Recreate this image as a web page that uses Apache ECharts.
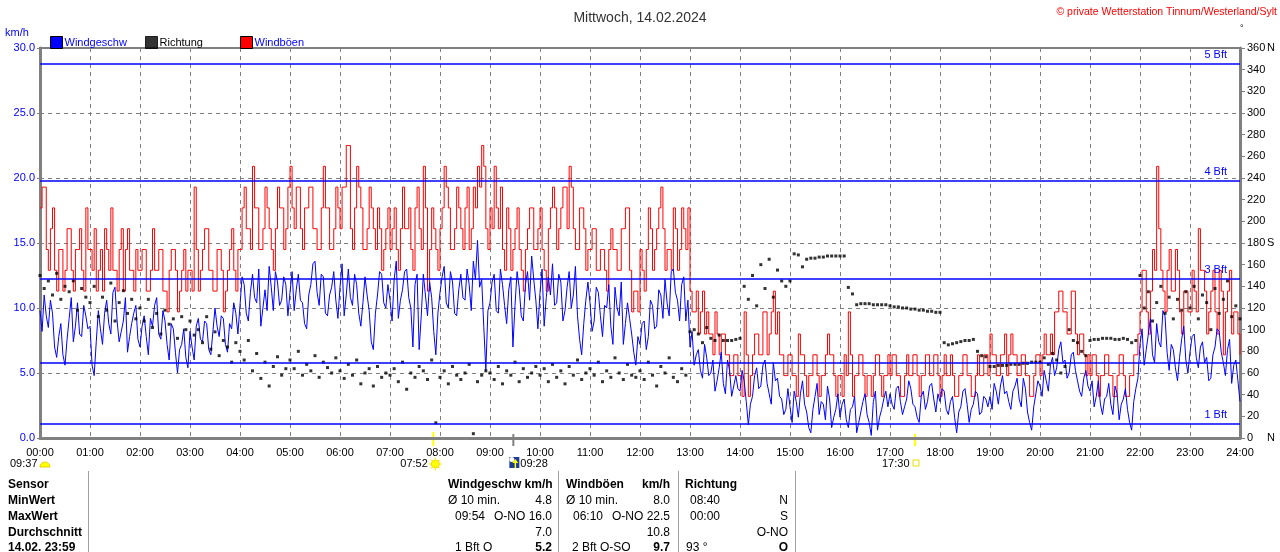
<!DOCTYPE html>
<html><head><meta charset="utf-8">
<script src="https://cdn.jsdelivr.net/npm/echarts@6/dist/echarts.min.js"></script>
<style>html,body{margin:0;padding:0;background:#fff;overflow:hidden}#c{width:1280px;height:552px}</style>
</head><body><div id="c"></div><script>
// ---- data: speed & gusts every 2.5 min, direction every 5 min (00:00 .. 24:00) ----
const speedStepMinutes = 2.5;
const dirStepMinutes = 5;
const windSpeed = [
 9.8,8.2,11.0,9.4,8.5,10.6,9.6,7.0,6.2,7.8,8.8,6.4,5.6,7.6,9.2,10.8,7.4,8.6,10.4,8.0,7.8,10.2,9.4,8.4,
 8.6,5.6,4.8,7.4,9.8,8.4,7.2,9.6,10.6,8.8,8.0,11.2,11.6,9.0,7.4,8.2,9.0,10.8,6.6,7.8,8.8,9.6,10.2,7.6,
 7.0,8.6,9.4,7.8,6.4,9.2,8.6,10.2,10.8,8.0,7.6,9.8,9.0,7.2,6.0,8.8,8.4,6.6,5.0,6.8,7.2,8.4,6.2,5.4,
 8.2,7.0,6.0,8.6,9.2,7.6,7.4,9.0,8.8,6.8,6.4,8.2,10.0,8.6,7.8,9.4,9.2,7.2,6.6,8.8,8.4,10.4,9.6,8.0,
 10.2,12.4,11.8,9.6,9.0,11.2,12.6,10.8,10.4,13.0,8.6,10.0,11.4,9.8,13.2,11.6,9.8,12.8,12.0,10.2,10.6,12.4,11.8,9.4,
 11.2,12.8,9.8,11.4,12.6,10.6,10.4,8.8,8.4,11.0,11.8,13.4,13.6,11.2,10.2,12.6,12.4,9.6,9.4,11.0,11.6,12.8,10.6,9.2,
 11.6,13.4,9.4,11.0,13.0,10.8,10.2,12.6,11.8,9.6,8.6,10.4,12.4,11.0,9.8,7.4,6.8,9.6,11.0,12.8,12.6,10.4,10.0,11.8,
 10.6,9.0,12.2,13.6,9.2,10.6,11.4,12.8,13.0,10.8,10.0,7.0,11.8,12.6,6.8,9.4,12.6,11.0,9.4,12.0,10.8,8.2,6.4,9.6,
 11.2,12.4,13.2,10.4,10.0,12.8,12.0,9.6,9.4,11.4,12.6,10.8,10.6,13.0,11.8,9.8,13.6,12.2,15.2,11.6,12.2,8.6,5.2,9.8,
 10.4,12.0,12.6,9.8,9.6,13.0,11.8,10.2,8.8,11.4,12.4,7.0,10.2,12.8,11.6,9.4,9.0,11.8,12.8,10.6,14.0,12.2,10.6,8.4,
 11.2,13.0,8.6,10.8,12.4,11.0,13.4,10.2,10.4,12.6,12.0,9.0,9.8,11.6,12.8,10.0,11.0,13.2,9.4,7.6,6.4,8.8,10.6,12.0,
 10.4,8.2,9.0,11.6,11.2,9.4,7.8,10.2,10.0,11.8,8.6,7.2,11.6,10.0,9.4,12.0,7.2,8.8,10.4,9.2,8.0,6.6,5.6,7.8,
 7.2,8.8,9.0,6.8,7.8,10.6,10.2,8.4,8.6,11.4,11.0,9.2,12.2,10.4,9.4,12.8,13.0,11.2,10.6,9.0,11.8,12.4,9.0,10.6,
 7.0,8.2,5.6,6.4,6.8,5.2,4.6,7.2,6.2,4.8,5.0,6.0,3.6,4.4,5.4,6.6,4.2,3.4,6.0,5.2,3.2,4.0,4.8,3.8,
 3.6,5.2,4.4,2.8,1.0,2.6,3.2,4.8,5.4,3.8,4.0,5.6,6.0,4.2,3.4,2.6,5.8,4.4,4.6,3.2,3.0,1.8,2.2,3.8,
 2.4,1.2,3.6,2.8,1.6,3.4,4.4,2.6,2.0,0.8,0.4,2.2,3.2,4.2,1.8,2.8,2.6,1.4,4.0,3.0,0.8,1.6,2.2,3.4,
 1.6,2.6,3.0,1.4,0.8,2.2,2.4,3.2,0.4,1.2,2.0,2.8,3.4,1.8,1.2,0.2,2.8,3.6,0.6,1.6,2.2,3.0,3.6,2.4,
 3.4,2.6,2.2,3.8,4.0,2.8,1.8,2.4,3.0,4.4,3.8,2.6,2.4,1.6,1.2,3.2,3.6,2.2,2.8,4.0,4.2,3.0,2.0,3.4,
 2.8,3.8,3.6,2.2,1.8,2.8,3.2,1.6,0.4,2.0,2.4,3.6,3.8,2.6,1.2,2.2,2.6,3.6,3.4,1.8,2.0,3.2,3.0,2.4,
 3.2,2.2,4.2,3.6,2.6,4.0,4.8,3.4,3.6,2.8,2.2,3.6,4.0,4.6,3.0,2.4,4.6,3.8,2.0,1.2,0.6,2.4,3.4,4.4,
 4.0,3.2,5.2,4.4,3.6,5.6,6.2,4.8,5.4,6.8,7.4,5.8,6.0,4.6,5.0,6.4,6.6,5.2,4.4,3.6,3.2,4.6,5.2,4.0,
 3.6,4.4,2.4,3.2,4.4,2.6,1.8,3.0,3.2,4.2,2.6,1.8,4.0,3.4,1.4,2.6,3.0,3.8,2.2,1.2,0.6,2.8,3.8,4.6,
 7.2,8.4,5.6,6.8,8.0,9.2,6.4,5.8,8.8,7.4,7.0,9.8,9.4,6.6,5.2,7.2,6.8,5.4,4.4,6.2,7.6,8.6,6.0,5.0,
 6.6,7.8,8.0,6.2,5.4,7.0,7.4,5.8,6.2,4.4,4.6,6.4,7.0,8.4,8.2,6.6,5.8,4.8,6.8,7.6,4.2,5.6,6.0,4.4,
 2.8];
const gusts = [
 17.7,19.3,19.3,14.5,12.9,16.1,17.7,12.9,11.3,14.5,14.5,11.3,12.9,16.1,16.1,12.9,11.3,14.5,14.5,16.1,12.9,11.3,17.7,14.5,
 14.5,12.9,16.1,11.3,12.9,14.5,11.3,16.1,14.5,12.9,17.7,12.9,12.9,11.3,14.5,16.1,11.3,14.5,16.1,12.9,12.9,11.3,14.5,12.9,
 12.9,14.5,14.5,11.3,11.3,12.9,16.1,12.9,12.9,14.5,14.5,11.3,11.3,9.7,12.9,14.5,14.5,12.9,9.7,11.3,12.9,14.5,11.3,12.9,
 12.9,11.3,19.3,14.5,11.3,12.9,14.5,16.1,16.1,12.9,12.9,11.3,11.3,14.5,14.5,12.9,9.7,11.3,12.9,14.5,16.1,12.9,11.3,14.5,
 14.5,17.7,19.3,16.1,16.1,14.5,20.9,17.7,17.7,14.5,14.5,16.1,19.3,17.7,16.1,14.5,12.9,16.1,19.3,17.7,17.7,14.5,16.1,19.3,
 20.9,17.7,16.1,19.3,19.3,16.1,14.5,17.7,17.7,19.3,19.3,16.1,16.1,14.5,14.5,17.7,20.9,17.7,17.7,14.5,14.5,16.1,19.3,17.7,
 16.1,19.3,19.3,22.5,22.5,16.1,14.5,17.7,20.9,19.3,17.7,14.5,14.5,16.1,19.3,17.7,16.1,14.5,17.7,16.1,12.9,14.5,16.1,17.7,
 14.5,16.1,17.7,14.5,12.9,16.1,19.3,16.1,16.1,17.7,14.5,12.9,17.7,19.3,16.1,14.5,20.9,17.7,11.3,14.5,17.7,16.1,14.5,12.9,
 16.1,17.7,20.9,19.3,17.7,14.5,14.5,16.1,19.3,17.7,16.1,14.5,17.7,19.3,14.5,16.1,19.3,17.7,20.9,19.3,22.5,20.9,16.1,14.5,
 17.7,16.1,20.9,17.7,16.1,19.3,14.5,12.9,17.7,16.1,12.9,14.5,16.1,17.7,14.5,12.9,11.3,14.5,16.1,17.7,17.7,14.5,14.5,16.1,
 17.7,14.5,12.9,11.3,16.1,17.7,19.3,17.7,14.5,16.1,17.7,19.3,19.3,16.1,20.9,19.3,16.1,14.5,14.5,17.7,17.7,16.1,12.9,14.5,
 14.5,16.1,16.1,12.9,12.9,14.5,14.5,12.9,11.3,14.5,16.1,14.5,14.5,12.9,12.9,16.1,16.1,17.7,17.7,12.9,9.7,11.3,11.3,9.7,
 14.5,12.9,11.3,14.5,17.7,16.1,12.9,14.5,16.1,17.7,19.3,16.1,12.9,14.5,14.5,12.9,17.7,16.1,12.9,14.5,17.7,16.1,14.5,17.7,
 11.3,9.7,9.7,11.3,8.0,9.7,11.3,8.0,9.7,8.0,8.0,6.4,9.7,8.0,6.4,8.0,8.0,6.4,6.4,4.8,4.8,6.4,6.4,4.8,
 4.8,3.2,9.7,6.4,3.2,4.8,6.4,8.0,8.0,6.4,6.4,9.7,9.7,6.4,8.0,9.7,11.3,8.0,9.7,6.4,6.4,4.8,4.8,6.4,
 6.4,4.8,4.8,3.2,8.0,6.4,6.4,4.8,3.2,4.8,4.8,6.4,6.4,4.8,3.2,4.8,4.8,6.4,8.0,6.4,6.4,4.8,3.2,4.8,
 4.8,3.2,6.4,4.8,9.7,6.4,3.2,4.8,4.8,6.4,6.4,4.8,3.2,4.8,4.8,3.2,4.8,6.4,6.4,4.8,3.2,4.8,4.8,6.4,
 4.8,6.4,6.4,4.8,4.8,3.2,3.2,4.8,6.4,4.8,4.8,6.4,6.4,4.8,3.2,4.8,4.8,6.4,6.4,4.8,4.8,6.4,6.4,4.8,
 3.2,4.8,6.4,4.8,4.8,6.4,4.8,3.2,3.2,4.8,4.8,6.4,6.4,4.8,4.8,3.2,3.2,4.8,6.4,4.8,4.8,6.4,6.4,4.8,
 8.0,6.4,6.4,4.8,4.8,6.4,6.4,8.0,4.8,6.4,8.0,6.4,6.4,4.8,4.8,6.4,6.4,4.8,4.8,3.2,3.2,4.8,6.4,6.4,
 4.8,6.4,8.0,6.4,6.4,8.0,6.4,9.7,9.7,11.3,11.3,9.7,9.7,8.0,8.0,11.3,11.3,8.0,6.4,8.0,8.0,6.4,4.8,6.4,
 4.8,6.4,6.4,4.8,3.2,4.8,4.8,6.4,6.4,4.8,4.8,3.2,3.2,4.8,6.4,6.4,4.8,3.2,3.2,4.8,4.8,6.4,6.4,8.0,
 9.7,12.9,12.9,9.7,8.0,11.3,14.5,12.9,20.9,16.1,12.9,11.3,9.7,12.9,14.5,11.3,11.3,14.5,12.9,9.7,8.0,11.3,11.3,9.7,
 9.7,12.9,11.3,9.7,16.1,12.9,12.9,11.3,8.0,9.7,11.3,12.9,9.7,8.0,12.9,11.3,6.4,9.7,11.3,12.9,8.0,9.7,9.7,8.0,
 6.4];
const direction = [
 150,138,145,132,152,128,140,135,145,118,138,130,
 125,140,112,130,118,143,108,125,136,115,128,110,
 120,108,128,102,115,96,118,105,110,92,112,100,
 108,95,100,88,112,82,98,76,90,84,70,88,
 80,72,90,62,78,55,70,48,66,75,58,64,
 72,64,80,58,68,62,76,56,70,65,60,74,
 62,55,68,58,72,50,60,64,48,66,56,60,
 58,64,52,70,45,60,56,66,62,54,72,14,
 56,62,50,66,58,54,60,68,4,52,58,62,
 60,54,66,50,62,58,70,52,64,56,60,66,
 58,64,52,68,56,62,50,66,58,72,54,60,
 64,58,70,52,62,56,74,60,54,68,58,56,
 62,54,70,58,48,66,60,74,56,52,64,58,
 98,100,96,88,102,92,90,95,90,90,90,91,
 92,140,128,150,122,160,138,165,130,155,145,140,
 145,170,169,158,165,166,166,167,167,168,168,168,
 168,168,139,133,123,124,124,124,123,123,123,123,
 122,121,121,120,120,119,119,118,118,117,117,116,
 116,88,86,87,88,89,90,90,91,80,76,75,
 66,66,67,67,67,68,68,68,69,69,70,70,
 70,74,68,78,72,60,66,100,90,88,80,76,
 90,91,91,92,92,92,91,91,92,91,88,90,
 150,120,135,108,125,140,115,130,110,128,118,135,
 120,140,110,132,125,100,138,115,128,145,112,122,
 110];
const tickLabels = ['00:00','01:00','02:00','03:00','04:00','05:00','06:00','07:00','08:00','09:00','10:00','11:00','12:00','13:00','14:00','15:00','16:00','17:00','18:00','19:00','20:00','21:00','22:00','23:00','24:00'];
const bftValues = [1.08, 5.76, 12.24, 19.8, 28.8];
const bftLabels = ['1 Bft', '', '3 Bft', '4 Bft', '5 Bft'];
const compassLabels = {0:'N', 180:'S', 360:'N'};
const astroEvents = [ {time:'07:52', kind:'sunrise'}, {time:'09:28', kind:'moonrise'}, {time:'17:30', kind:'sunset'} ];
const moonsetText = '09:37';
const tableHeader = ['Sensor','Windgeschw km/h','Windböen','km/h','Richtung'];
const tableRowNames = ['MinWert','MaxWert','Durchschnitt','14.02. 23:59'];
const tableSpeed = [['Ø 10 min.','4.8'],['09:54','O-NO 16.0'],['','7.0'],['1 Bft O','5.2']];
const tableGust = [['Ø 10 min.','8.0'],['06:10','O-NO 22.5'],['','10.8'],['2 Bft O-SO','9.7']];
const tableDir = [['08:40','N'],['00:00','S'],['','O-NO'],['93 °','O']];

const toPairs = (arr, step) => arr.map((v, i) => [i * step, v]);
const FONT = 'Liberation Sans, Arial, sans-serif';
const FS = 11;
const chart = echarts.init(document.getElementById('c'), null, {renderer:'canvas'});

const legendBase = {orient:'horizontal', top:31, itemWidth:12, itemHeight:12, icon:'rect', selectedMode:false,
  itemGap:0, textStyle:{fontFamily:FONT, fontSize:FS, padding:[0,0,0,-3]}, itemStyle:{borderColor:'#000', borderWidth:1}};

chart.setOption({
  animation:false,
  textStyle:{fontFamily:FONT},
  title:{text:'Mittwoch, 14.02.2024', left:'center', top:6, textStyle:{fontFamily:FONT, fontSize:14, fontWeight:'normal', color:'#333'}},
  legend:[
    Object.assign({}, legendBase, {left:45, data:[{name:'Windgeschw', textStyle:{color:'#0000ff'}}]}),
    Object.assign({}, legendBase, {left:140, data:[{name:'Richtung', textStyle:{color:'#000'}}]}),
    Object.assign({}, legendBase, {left:235, data:[{name:'Windböen', textStyle:{color:'#0000ff'}}]})
  ],
  grid:{left:40, right:40, top:48, bottom:114, show:true, borderColor:'#808080', borderWidth:2, containLabel:false},
  xAxis:{type:'value', min:0, max:1440, interval:60,
    axisLine:{show:true, onZero:false, lineStyle:{color:'#808080', width:3}},
    axisTick:{show:false},
    axisLabel:{color:'#000', fontSize:FS, margin:9, formatter:v => tickLabels[v/60]},
    splitLine:{show:true, lineStyle:{color:'#808080', type:[4,4], width:1}}},
  yAxis:[
    {type:'value', min:0, max:30, interval:5, position:'left',
      axisLine:{show:true, lineStyle:{color:'#808080', width:3}},
      axisTick:{show:true, length:3, lineStyle:{color:'#808080'}},
      axisLabel:{color:'#0000ff', fontSize:FS, margin:5, formatter:v => v.toFixed(1)},
      splitLine:{show:true, lineStyle:{color:'#808080', type:[4,4], width:1}}},
    {type:'value', min:0, max:360, interval:20, position:'right',
      axisLine:{show:true, lineStyle:{color:'#808080', width:3}},
      axisTick:{show:true, length:5, lineStyle:{color:'#808080'}},
      axisLabel:{color:'#000', fontSize:FS, margin:7,
        formatter:v => '{a|' + v + '}' + (compassLabels[v] ? '{b|' + compassLabels[v] + '}' : ''),
        rich:{a:{width:20, fontSize:FS, align:'left'}, b:{fontSize:FS}}},
      splitLine:{show:false}}
  ],
  series:[
    {name:'Windböen', type:'line', yAxisIndex:0, step:'end', symbol:'none', z:2,
      lineStyle:{color:'#ff0000', width:1}, itemStyle:{color:'#ff0000'},
      data:toPairs(gusts, speedStepMinutes),
      markLine:{silent:true, symbol:'none', animation:false,
        lineStyle:{color:'#0000ff', type:'solid', width:1.5},
        data:bftValues.map((v, i) => ({yAxis:v,
          label:{show:!!bftLabels[i], formatter:bftLabels[i], position:'insideEndTop', color:'#0000ff',
            fontSize:FS, fontFamily:FONT, distance:[13,3]}}))}},
    {name:'Windgeschw', type:'line', yAxisIndex:0, symbol:'none', z:3,
      lineStyle:{color:'#0000ff', width:1}, itemStyle:{color:'#0000ff'},
      data:toPairs(windSpeed, speedStepMinutes)},
    {name:'Richtung', type:'scatter', yAxisIndex:1, symbol:'rect', symbolSize:3, z:4,
      itemStyle:{color:'#000'}, data:toPairs(direction, dirStepMinutes)}
  ]
});

// ---- extra texts, markers and table ----
const minutesOf = t => { const p = t.split(':'); return (+p[0]) * 60 + (+p[1]); };
const px = m => chart.convertToPixel({xAxisIndex:0}, m);
const axisY = chart.convertToPixel({yAxisIndex:0}, 0);
const g = [];
const txt = (x, y, s, opt) => g.push({type:'text', x, y, silent:true, style:Object.assign({text:s, font:FS + 'px ' + FONT, fill:'#000', textVerticalAlign:'middle'}, opt || {})});

txt(5, 33, 'km/h', {fill:'#0000ff'});
txt(1277, 12, '© private Wetterstation Tinnum/Westerland/Sylt', {fill:'#ff0000', textAlign:'right', font:'10.5px ' + FONT});
txt(1240, 29, '°', {font:'9px ' + FONT});

// moonset (left)
txt(10, 464, moonsetText);
g.push({type:'sector', silent:true, shape:{cx:45, cy:467, r:5, r0:0, startAngle:Math.PI, endAngle:Math.PI*2}, style:{fill:'#ffff00', stroke:'#e8d000'}});

astroEvents.forEach(ev => {
  const x = px(minutesOf(ev.time));
  if (ev.kind === 'sunrise') {
    g.push({type:'line', silent:true, shape:{x1:x, y1:axisY-6, x2:x, y2:axisY+8}, style:{stroke:'#ffff00', lineWidth:2}});
    txt(x - 33, 464, ev.time);
    for (let k = 0; k < 8; k++) {
      const a = k * Math.PI / 4;
      g.push({type:'line', silent:true, shape:{x1:x+2+Math.cos(a)*4, y1:464+Math.sin(a)*4, x2:x+2+Math.cos(a)*6.5, y2:464+Math.sin(a)*6.5}, style:{stroke:'#ffe800', lineWidth:1}});
    }
    g.push({type:'circle', silent:true, shape:{cx:x+2, cy:464, r:4}, style:{fill:'#ffff00', stroke:'#f0d800'}});
  } else if (ev.kind === 'moonrise') {
    g.push({type:'line', silent:true, shape:{x1:x, y1:axisY-4, x2:x, y2:axisY+8}, style:{stroke:'#808080', lineWidth:2}});
    g.push({type:'rect', silent:true, shape:{x:x-4, y:457, width:10, height:11}, style:{fill:'#1e3c96'}});
    g.push({type:'circle', silent:true, shape:{cx:x-1.5, cy:459.5, r:2.5}, style:{fill:'#ffffff'}});
    g.push({type:'line', silent:true, shape:{x1:x+2, y1:461, x2:x+2, y2:468}, style:{stroke:'#ffff00', lineWidth:1.5}});
    g.push({type:'polygon', silent:true, shape:{points:[[x-1,463],[x+5,463],[x+2,459]]}, style:{fill:'#ffff00'}});
    txt(x + 7, 464, ev.time);
  } else {
    g.push({type:'line', silent:true, shape:{x1:x, y1:axisY-4, x2:x, y2:axisY+8}, style:{stroke:'#ffff00', lineWidth:2}});
    txt(x - 33, 464, ev.time);
    g.push({type:'rect', silent:true, shape:{x:x-2, y:460, width:6, height:6}, style:{fill:'none', stroke:'#e8e000', lineWidth:1}});
  }
});

// table
const rowY = [485, 501, 517, 533, 548];
const B = 'bold 12px ' + FONT, N = '12px ' + FONT;
[88.5, 558.5, 678.5, 795.5].forEach(x => g.push({type:'line', silent:true, shape:{x1:x, y1:471, x2:x, y2:552}, style:{stroke:'#a0a0a0', lineWidth:1}}));
txt(8, rowY[0], tableHeader[0], {font:B});
txt(448, rowY[0], tableHeader[1], {font:B});
txt(566, rowY[0], tableHeader[2], {font:B});
txt(670, rowY[0], tableHeader[3], {font:B, textAlign:'right'});
txt(685, rowY[0], tableHeader[4], {font:B});
tableRowNames.forEach((name, i) => {
  const y = rowY[i + 1];
  const last = i === 3;
  txt(8, y, name, {font:B});
  txt(i === 0 ? 448 : 455, y, tableSpeed[i][0], {font:N});
  txt(552, y, tableSpeed[i][1], {font:last ? B : N, textAlign:'right'});
  txt(i === 0 ? 566 : (last ? 572 : 573), y, tableGust[i][0], {font:N});
  txt(670, y, tableGust[i][1], {font:last ? B : N, textAlign:'right'});
  txt(last ? 686 : 690, y, tableDir[i][0], {font:N});
  txt(788, y, tableDir[i][1], {font:last ? B : N, textAlign:'right'});
});

chart.setOption({graphic:g});
</script></body></html>
